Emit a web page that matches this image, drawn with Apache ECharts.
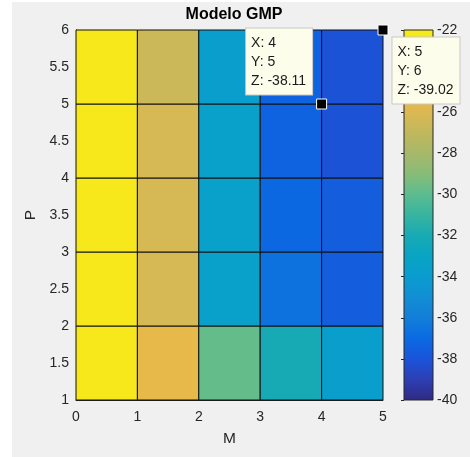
<!DOCTYPE html>
<html><head><meta charset="utf-8">
<script src="https://cdn.jsdelivr.net/npm/echarts@6/dist/echarts.min.js"></script>
<style>html,body{margin:0;padding:0;background:#fff}#c{width:470px;height:457px}</style>
</head><body><div id="c"></div>
<script>
// M (x) cell starts and P (y) cell starts
const mValues = [0, 1, 2, 3, 4];
const pValues = [1, 2, 3, 4, 5];
// Z values per row (P = 1..5), columns M = 0..4
const zP1 = [-22.3, -25.4, -29.8, -32.0, -33.7];
const zP2 = [-22.3, -26.2, -33.4, -36.6, -37.6];
const zP3 = [-22.3, -26.2, -33.4, -37.1, -37.6];
const zP4 = [-22.3, -26.2, -33.4, -37.3, -38.1];
const zP5 = [-22.3, -26.6, -33.7, -37.3, -38.11];
const zRows = [zP1, zP2, zP3, zP4, zP5];
// data tips
const tipX = [4, 5];
const tipY = [5, 6];
const tipZ = [-38.11, -39.02];
// colorbar ticks
const cbMin = -40, cbMax = -22, cbStep = 2;

// colormap sampled at -40, -39, ..., -22
const cmap = ['#2e2a82','#2e3eb4','#1a54da','#0a6ae2','#127ed8','#128ed4','#0a9cd0','#08a4c4','#18aab4',
  '#38b4a0','#5cbc90','#88bc78','#a8b86a','#c0b85c','#dcb852','#eeba46','#f8c63a','#f6da2a','#f7ee14'];

const cellData = [];
pValues.forEach((p, i) => mValues.forEach((m, j) => cellData.push([m, p, zRows[i][j]])));
const tipData = tipX.map((x, i) => [x, tipY[i], tipZ[i]]);

const FONT = 'Liberation Sans, Arial, sans-serif';
const chart = echarts.init(document.getElementById('c'));
const labelBase = {
  show: true, align: 'left', verticalAlign: 'top',
  fontFamily: FONT, fontSize: 14, color: '#1a1a1a', lineHeight: 19,
  backgroundColor: '#fdfdec', borderColor: '#c8c8c8', borderWidth: 1,
  padding: [5, 6, 4, 5],
  formatter: p => 'X: ' + p.value[0] + '\nY: ' + p.value[1] + '\nZ: ' + p.value[2]
};
chart.setOption({
  backgroundColor: '#f0f0f0',
  animation: false,
  graphic: [
    {type: 'rect', shape: {x: 0, y: 0, width: 12, height: 457}, style: {fill: '#fff'}, silent: true, z: -10},
    {type: 'rect', shape: {x: 0, y: 0, width: 470, height: 2}, style: {fill: '#fff'}, silent: true, z: -10}
  ],
  title: {
    text: 'Modelo GMP', left: 229, top: 2, textAlign: 'center',
    textStyle: {fontFamily: FONT, fontSize: 16, fontWeight: 'bold', color: '#000'}
  },
  grid: [
    {left: 76, top: 30, width: 307, height: 370},
    {left: 404, top: 30, width: 29, height: 370}
  ],
  xAxis: [
    {type: 'value', gridIndex: 0, min: 0, max: 5, interval: 1,
     name: 'M', nameLocation: 'middle', nameGap: 31,
     nameTextStyle: {fontFamily: FONT, fontSize: 15.5, color: '#262626'},
     axisLine: {lineStyle: {color: '#262626'}}, axisTick: {show: false}, splitLine: {show: false},
     axisLabel: {fontFamily: FONT, fontSize: 14, color: '#262626', margin: 10}},
    {type: 'value', gridIndex: 1, min: 0, max: 1, show: false}
  ],
  yAxis: [
    {type: 'value', gridIndex: 0, min: 1, max: 6, interval: 0.5,
     name: 'P', nameLocation: 'middle', nameGap: 35, nameRotate: 90,
     nameTextStyle: {fontFamily: FONT, fontSize: 15.5, color: '#262626'},
     axisLine: {show: true, lineStyle: {color: '#262626'}}, axisTick: {show: false}, splitLine: {show: false},
     axisLabel: {fontFamily: FONT, fontSize: 14, color: '#262626', margin: 7}},
    {type: 'value', gridIndex: 1, min: cbMin, max: cbMax, interval: cbStep, position: 'right',
     axisLine: {show: false}, splitLine: {show: false},
     axisTick: {show: true, inside: true, length: 3, lineStyle: {color: '#262626'}},
     axisLabel: {fontFamily: FONT, fontSize: 14, color: '#262626', margin: 4}}
  ],
  visualMap: {
    show: false, type: 'continuous', min: cbMin, max: cbMax, dimension: 2, seriesIndex: 0,
    inRange: {color: cmap}
  },
  series: [
    {
      type: 'custom', xAxisIndex: 0, yAxisIndex: 0, data: cellData,
      encode: {x: 0, y: 1},
      renderItem: (params, api) => {
        const x = api.value(0), y = api.value(1);
        const p0 = api.coord([x, y + 1]), p1 = api.coord([x + 1, y]);
        return {type: 'rect', shape: {x: p0[0], y: p0[1], width: p1[0] - p0[0], height: p1[1] - p0[1]},
          style: {fill: api.visual('color'), stroke: '#111', lineWidth: 1}};
      }
    },
    {
      type: 'custom', xAxisIndex: 1, yAxisIndex: 1, data: [[0, cbMin]],
      renderItem: (params, api) => {
        const p0 = api.coord([0, cbMax]), p1 = api.coord([1, cbMin]);
        const stops = cmap.map((c, i) => ({offset: i / (cmap.length - 1), color: c}));
        return {type: 'rect', shape: {x: p0[0], y: p0[1], width: p1[0] - p0[0], height: p1[1] - p0[1]},
          style: {fill: new echarts.graphic.LinearGradient(0, 1, 0, 0, stops), stroke: '#262626', lineWidth: 1}};
      }
    },
    {
      type: 'scatter', xAxisIndex: 0, yAxisIndex: 0, z: 20,
      symbol: 'rect', symbolSize: 10,
      itemStyle: {color: '#000', borderColor: '#fff', borderWidth: 1, opacity: 1},
      data: [
        {value: tipData[0], label: Object.assign({}, labelBase, {position: [-70, -70]})},
        {value: tipData[1], label: Object.assign({}, labelBase, {position: [15, 13]})}
      ]
    }
  ]
});
</script></body></html>
